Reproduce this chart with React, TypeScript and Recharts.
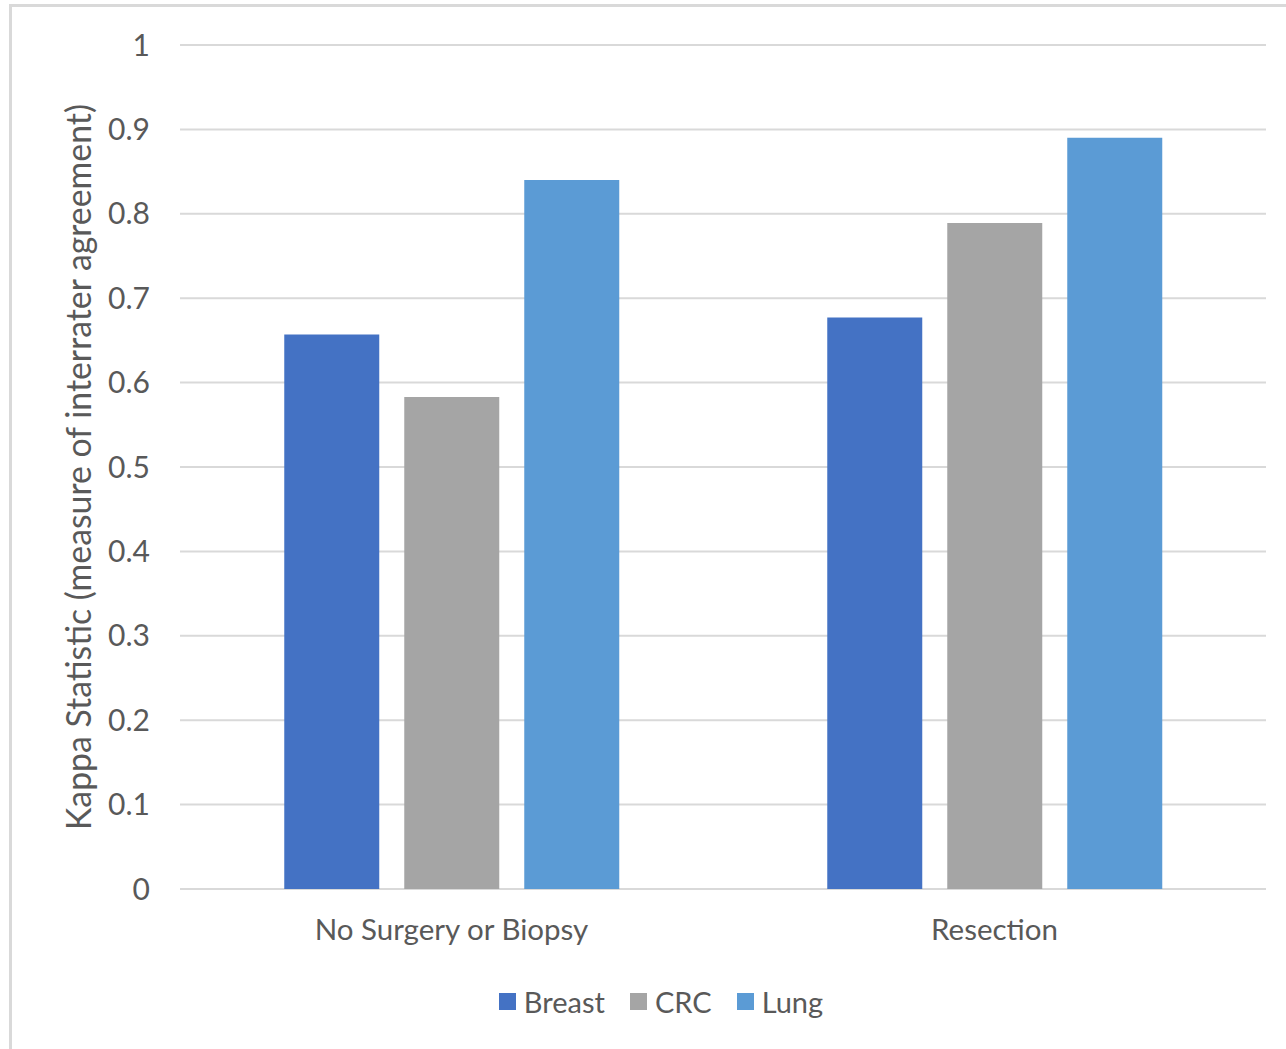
import React from 'react';
import { BarChart, Bar, XAxis, YAxis, CartesianGrid, Legend } from 'recharts';

const categories = ['No Surgery or Biopsy', 'Resection'];
const breast = [0.657, 0.677];
const crc = [0.583, 0.789];
const lung = [0.840, 0.890];
const yTicks = [0, 0.1, 0.2, 0.3, 0.4, 0.5, 0.6, 0.7, 0.8, 0.9, 1];
const seriesNames = ['Breast', 'CRC', 'Lung'];
const seriesColors = ['#4472C4', '#A5A5A5', '#5B9BD5'];

const data = categories.map((c, i) => ({ name: c, Breast: breast[i], CRC: crc[i], Lung: lung[i] }));

const FONT = 'Lato, "Open Sans", sans-serif';
const TXT = '#595959';

const LegendContent = (props: any) => {
  const payload = props.payload || [];
  return (
    <div style={{ display: 'flex', justifyContent: 'center', alignItems: 'center', fontFamily: FONT, fontSize: 29, color: TXT }}>
      {payload.map((p: any, i: number) => (
        <div key={i} style={{ display: 'flex', alignItems: 'center', marginRight: i < payload.length - 1 ? 25 : 0 }}>
          <span style={{ display: 'inline-block', width: 17, height: 17, background: p.color, marginRight: 8 }} />
          <span>{p.value}</span>
        </div>
      ))}
    </div>
  );
};

export default function App() {
  return (
    <div style={{ position: 'absolute', left: 0, top: 0, width: 1286, height: 1049, overflow: 'hidden', background: '#fff' }}>
      <div style={{ position: 'absolute', left: 9, top: 4, width: 1300, height: 1100, border: '3px solid #d9d9d9', boxSizing: 'border-box' }} />
      <div style={{ position: 'absolute', left: 0, top: 0 }}>
        <BarChart
          width={1286}
          height={1049}
          data={data}
          margin={{ top: 45, right: 20, bottom: 130, left: 0 }}
          barCategoryGap="19.2%"
          barGap={25}
        >
          <CartesianGrid vertical={false} stroke="#d9d9d9" strokeWidth={2} />
          <XAxis
            dataKey="name"
            height={30}
            axisLine={false}
            tickLine={false}
            tickSize={0}
            tickMargin={30}
            tick={{ fill: TXT, fontSize: 29.5, fontFamily: FONT }}
          />
          <YAxis
            width={180}
            domain={[0, 1]}
            ticks={yTicks}
            axisLine={false}
            tickLine={false}
            tickSize={0}
            tickMargin={30}
            tick={{ fill: TXT, fontSize: 30, fontFamily: FONT }}
            label={{
              content: (lp: any) => {
                const vb = lp.viewBox || { x: 0, y: 45, width: 180, height: 844 };
                const cy = vb.y + vb.height / 2;
                return (
                  <text
                    x={78}
                    y={cy}
                    transform={`rotate(-90 78 ${cy})`}
                    textAnchor="middle"
                    dominantBaseline="central"
                    fill={TXT}
                    fontSize={33.8}
                    fontFamily={FONT}
                  >
                    Kappa Statistic (measure of interrater agreement)
                  </text>
                );
              },
            }}
          />
          <Legend verticalAlign="middle" align="center" layout="horizontal" content={<LegendContent />} wrapperStyle={{ top: 984, left: 18, width: 1286 }} />
          {seriesNames.map((s, i) => (
            <Bar key={s} dataKey={s} fill={seriesColors[i]} isAnimationActive={false} />
          ))}
        </BarChart>
      </div>
    </div>
  );
}
